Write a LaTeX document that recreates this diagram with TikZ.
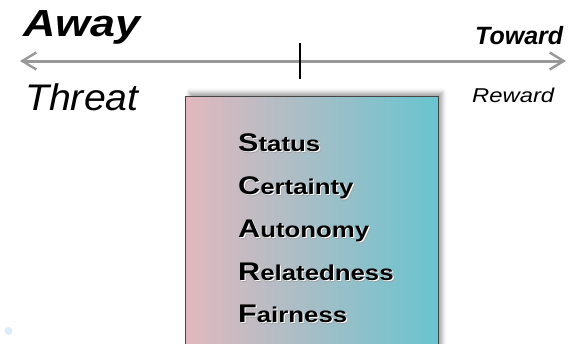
\documentclass[tikz,border=0pt]{standalone}
\usepackage{fontspec}
\setmainfont{Liberation Sans}
\usepackage{graphicx}
\usetikzlibrary{arrows.meta,shadows.blur}

\definecolor{axisgray}{RGB}{152,152,152}
\definecolor{boxborder}{RGB}{70,70,70}
\definecolor{threatpink}{RGB}{226,184,190}
\definecolor{rewardteal}{RGB}{104,196,207}
\definecolor{dotblue}{RGB}{222,236,250}
\definecolor{shadegray}{RGB}{150,150,150}

% horizontally stretched text
\newcommand{\hstretch}[2]{\scalebox{#1}[1]{#2}}
% one SCARF word: enlarged initial, smaller remainder
\newcommand{\scarfword}[2]{\hstretch{1.2}{\bfseries{\fontsize{25.5}{26}\selectfont #1}{\fontsize{21.5}{22}\selectfont #2}}}

\tikzset{
  axis/.style={draw=axisgray, line width=3pt,
    {Straight Barb[length=14pt,width=17pt,line width=2.4pt]}-{Straight Barb[length=14pt,width=17pt,line width=2.4pt]}},
  label/.style={inner sep=0pt, anchor=base west},
  item/.style={inner sep=0pt, anchor=base west},
  itemlight/.style={item, text=white},
  itemshade/.style={item, text=shadegray, opacity=0.6},
}

% item with a soft drop shade and a white highlight
\newcommand{\scarfitem}[4]{%
  \node[itemshade] (#1-shade) at (239.8,#2+2.2) {\scarfword{#3}{#4}};
  \node[itemlight] (#1-light) at (239.2,#2+1.2) {\scarfword{#3}{#4}};
  \node[item] (#1) at (238,#2) {\scarfword{#3}{#4}};
}

\begin{document}
\begin{tikzpicture}[x=1pt,y=-1pt]
  \useasboundingbox (0,0) rectangle (576,343);

  % gradient panel running off the lower edge
  \begin{scope}
    \clip (0,0) rectangle (576,343);
    \node[draw=boxborder, line width=0.8pt, left color=threatpink, right color=rewardteal,
          minimum width=253pt, minimum height=256pt, inner sep=0pt, anchor=north west,
          blur shadow={shadow xshift=4pt, shadow yshift=4pt, shadow blur radius=4pt, shadow opacity=35}]
          (panel) at (185,96) {};
  \end{scope}

  % away / toward axis
  \coordinate (awayEnd) at (20,61);
  \coordinate (towardEnd) at (566,61);
  \draw[axis] (awayEnd) -- (towardEnd);
  \coordinate (tickTop) at (300,43);
  \coordinate (tickBottom) at (300,79);
  \draw[black, line width=1.1pt] (tickTop) -- (tickBottom);

  % end labels
  \node[label] (away) at (23,36.5) {\hstretch{1.19}{\fontsize{37.7}{40}\selectfont\bfseries\itshape Away}};
  \node[label] (threat) at (25,110.7) {\hstretch{1.06}{\fontsize{37}{40}\selectfont\itshape Threat}};
  \node[label] (toward) at (475,44) {\fontsize{25}{28}\selectfont\bfseries\itshape Toward};
  \node[label] (reward) at (472,102.7) {\hstretch{1.19}{\fontsize{20}{22}\selectfont\itshape Reward}};

  % SCARF domains
  \scarfitem{status}{151}{S}{tatus}
  \scarfitem{certainty}{194}{C}{ertainty}
  \scarfitem{autonomy}{237}{A}{utonomy}
  \scarfitem{relatedness}{280}{R}{elatedness}
  \scarfitem{fairness}{322}{F}{airness}

  % faint corner mark
  \node[circle, fill=dotblue, minimum size=8pt, inner sep=0pt] (cornerdot) at (8.5,331) {};
\end{tikzpicture}
\end{document}
